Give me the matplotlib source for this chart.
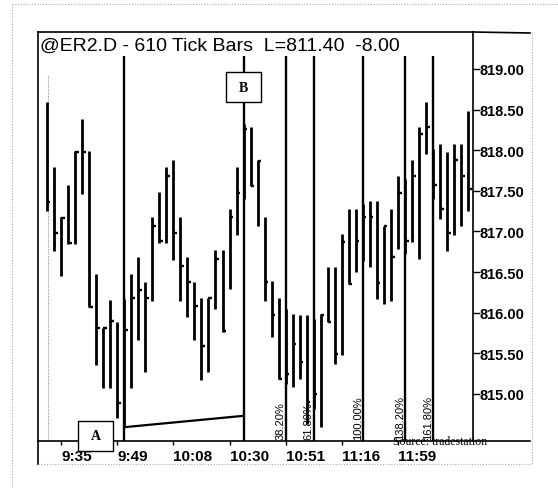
import matplotlib
matplotlib.use("Agg")
import matplotlib.pyplot as plt
from matplotlib.lines import Line2D
from matplotlib.patches import Rectangle

# ---- data (610 tick bars, @ER2.D) ----
highs = [818.59, 817.79, 817.18, 817.57, 817.99, 818.38, 817.99, 816.48, 815.81, 816.16,
         815.89, 816.17, 816.48, 816.69, 816.38, 817.18, 817.49, 817.79, 817.88, 817.18,
         816.69, 816.38, 816.18, 816.18, 816.77, 816.77, 817.28, 817.79, 818.32, 818.29,
         817.88, 817.18, 816.39, 816.18, 816.05, 815.98, 815.97, 815.97, 815.92, 815.98,
         816.56, 816.56, 816.97, 817.28, 817.28, 817.34, 817.38, 817.38, 817.07, 817.28,
         817.68, 817.65, 817.88, 818.29, 818.59, 818.02, 818.08, 817.98, 818.08, 818.08,
         818.48]
lows = [817.25, 816.76, 816.45, 816.85, 816.85, 817.46, 816.07, 815.36, 815.07, 815.07,
        814.70, 814.59, 815.07, 815.66, 815.27, 816.14, 816.86, 816.86, 816.65, 816.14,
        815.95, 815.66, 815.17, 815.27, 816.05, 815.76, 816.29, 816.96, 817.40, 817.56,
        817.07, 816.14, 815.70, 815.18, 815.12, 815.09, 815.18, 814.63, 814.82, 814.59,
        815.89, 815.37, 815.48, 816.35, 816.50, 816.64, 816.56, 816.17, 816.11, 816.14,
        816.78, 816.72, 816.87, 816.66, 817.95, 817.40, 817.15, 816.76, 816.96, 817.07,
        817.25]
closes = [817.36, 816.98, 817.17, 816.86, 817.98, 817.98, 816.07, 815.81, 815.81, 815.90,
          814.89, 815.79, 816.18, 816.28, 816.18, 817.07, 816.88, 817.68, 816.98, 816.58,
          816.38, 816.08, 815.59, 816.18, 816.66, 815.78, 817.18, 817.47, 818.26, 817.56,
          817.87, 816.38, 815.97, 815.18, 815.25, 815.62, 815.39, 814.90, 815.00, 815.97,
          815.89, 815.49, 816.87, 816.35, 816.88, 817.18, 817.18, 816.37, 817.07, 816.69,
          817.47, 816.88, 817.68, 818.20, 818.29, 817.57, 817.28, 816.98, 817.88, 817.68,
          817.52]

time_tick_bars = [2, 10, 18, 26, 34, 42, 50]
time_labels = ["9:35", "9:49", "10:08", "10:30", "10:51", "11:16", "11:59"]

point_a_bar, point_b_bar = 11, 28
trend_prices = [814.59, 814.73]          # A low -> under B
fib_labels = ["38.20%", "61.80%", "100.00%", "138.20%", "161.80%"]
fib_bars = [34, 38, 45, 51, 55]

price_ticks = [815.0, 815.5, 816.0, 816.5, 817.0, 817.5, 818.0, 818.5, 819.0]

W, H = 558, 489
fig = plt.figure(figsize=(W / 100, H / 100), dpi=100)
fig.patch.set_facecolor("white")


def fx(px):
    return px / W


def fy(py):
    return 1 - py / H


ax = fig.add_axes([fx(38), fy(442), fx(473) - fx(38), fy(33) - fy(442)])
ax.set_xlim(-1.28, 60.68)
ax.set_ylim(814.42, 819.455)
ymin = ax.get_ylim()[0]

bars = range(len(highs))
ax.vlines(bars, lows, highs, color="black", lw=2.0, zorder=3)
ax.hlines(closes, [b for b in bars], [b + 0.5 for b in bars], color="black", lw=1.7, zorder=3)

# A / B and fibonacci time lines
line_top = 819.16
for b in [point_a_bar, point_b_bar] + fib_bars:
    ax.vlines(b, ymin, line_top, color="black", lw=1.7, zorder=4)
for lab, b in zip(fib_labels, fib_bars):
    ax.text(b - 0.75, ymin + 0.03, lab, rotation=90, ha="center", va="bottom",
            fontsize=8, family="Liberation Sans", zorder=5)

ax.plot([point_a_bar, point_b_bar], trend_prices, color="black", lw=1.6, zorder=4)

# first-bar dotted marker line
ax.vlines(0.1, ymin, 818.92, color="#999999", lw=0.8, linestyles=(0, (1, 1)), zorder=2)

# labelled boxes
ax.add_patch(Rectangle((point_b_bar - 2.45, 818.59), 4.9, 0.37, fc="white", ec="black",
                       lw=1.0, zorder=6))
ax.text(point_b_bar, 818.775, "B", ha="center", va="center", fontsize=10,
        family="Liberation Serif", weight="bold", zorder=7)
ax.add_patch(Rectangle((point_a_bar - 6.55, 814.30), 4.9, 0.37, fc="white", ec="black",
                       lw=1.0, zorder=6, clip_on=False))
ax.text(point_a_bar - 4.1, 814.485, "A", ha="center", va="center", fontsize=10,
        family="Liberation Serif", weight="bold", zorder=7, clip_on=False)

# axes styling
for s in ax.spines.values():
    s.set_color("black")
    s.set_linewidth(1.2)
ax.yaxis.tick_right()
ax.set_yticks(price_ticks)
ax.set_yticklabels(["%.2f" % p for p in price_ticks], fontsize=10.5,
                   family="Liberation Sans", weight="bold")
ax.tick_params(axis="y", direction="out", length=5, width=1, pad=0)
ax.set_xticks(time_tick_bars)
ax.set_xticklabels(time_labels, fontsize=11, family="Liberation Sans", weight="bold",
                   ha="left")
ax.tick_params(axis="x", direction="out", length=3, width=1, pad=3)

fig.text(fx(40), fy(46), "@ER2.D - 610 Tick Bars  L=811.40  -8.00", ha="left",
         va="center", fontsize=14, family="Liberation Sans")
fig.text(fx(393), fy(442), "Source: tradestation", ha="left", va="center",
         fontsize=8.5, family="Liberation Serif", zorder=8)

# outer frame pieces
solid = dict(color="black", lw=1.2, transform=fig.transFigure)
dotted = dict(color="#aaaaaa", lw=0.8, ls=(0, (1, 1.5)), transform=fig.transFigure)
fig.add_artist(Line2D([fx(473), fx(530)], [fy(33), fy(34)], **solid))
fig.add_artist(Line2D([fx(473), fx(530)], [fy(442), fy(442)], **solid))
fig.add_artist(Line2D([fx(38), fx(38)], [fy(442), fy(465)], **solid))
fig.add_artist(Line2D([fx(532), fx(532)], [fy(33), fy(465)], **dotted))
fig.add_artist(Line2D([fx(38), fx(532)], [fy(465), fy(465)], **dotted))
fig.add_artist(Line2D([fx(12), fx(12)], [fy(5), fy(489)], **dotted))
fig.add_artist(Line2D([fx(12), fx(558)], [fy(5), fy(5)], **dotted))

fig.savefig("out.png", dpi=100)
